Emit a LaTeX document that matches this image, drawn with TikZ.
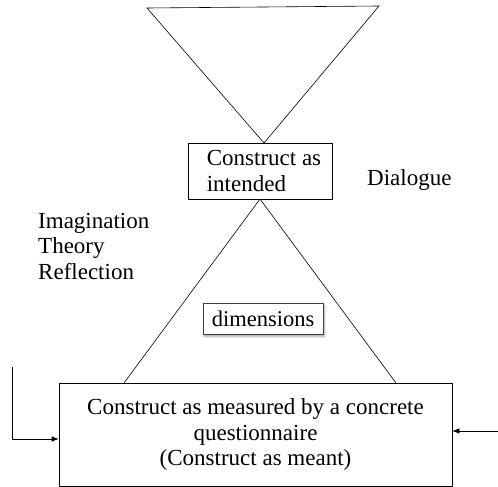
\documentclass[tikz,border=0pt]{standalone}
\usepackage{fontspec}
\setmainfont{Liberation Serif}
\usetikzlibrary{arrows.meta,shadows.blur}
\tikzset{
  txt/.style={inner sep=0pt, font=\fontsize{23}{25.5}\selectfont},
  boxed/.style={draw, line width=0.7pt, inner sep=0pt, font=\fontsize{23}{25.5}\selectfont},
  tri/.style={draw, line width=0.6pt, line join=miter},
  arr/.style={draw, line width=0.7pt, -{Latex[length=7pt,width=5.5pt]}}
}
\begin{document}
\begin{tikzpicture}[x=1pt,y=-1pt]
\useasboundingbox (0,0) rectangle (498,487);
% boxes
\node[boxed, minimum width=144pt, minimum height=56pt, align=left] (intended) at (260,171) {\hspace*{8pt}Construct as\\\hspace*{8pt}intended};
\node[boxed, minimum width=393pt, minimum height=103pt, align=center] (meas) at (255.5,434.5) {Construct as measured by a concrete\\questionnaire\\(Construct as meant)};
\node[boxed, draw=black!75, fill=white, minimum width=120pt, minimum height=31pt, font=\fontsize{22.5}{25}\selectfont, blur shadow={shadow xshift=1.5pt, shadow yshift=-2.5pt, shadow blur steps=6, shadow opacity=35}] (dim) at (263,318.5) {dimensions};
% texts
\node[txt, anchor=base west] (dialogue) at (367,185) {Dialogue};
\node[txt, anchor=base west, align=left] (itr) at (38,279) {Imagination\\Theory\\Reflection};
% triangles
\coordinate (tl) at (147,8);
\coordinate (tr) at (379,6);
\coordinate (ta) at (264,143);
\draw[tri] (tl) -- (tr) -- (ta) -- cycle;
\coordinate (ba) at (260,199);
\coordinate (bl) at (124,383);
\coordinate (br) at (396,383);
\draw[tri] (bl) -- (ba) -- (br);
% arrows
\coordinate (ls) at (12,367);
\coordinate (ly) at (0,439);
\draw[arr] (ls) |- (meas.west |- ly);
\coordinate (rs) at (498,431);
\draw[arr] (rs) -- (rs -| meas.east);
\end{tikzpicture}
\end{document}
